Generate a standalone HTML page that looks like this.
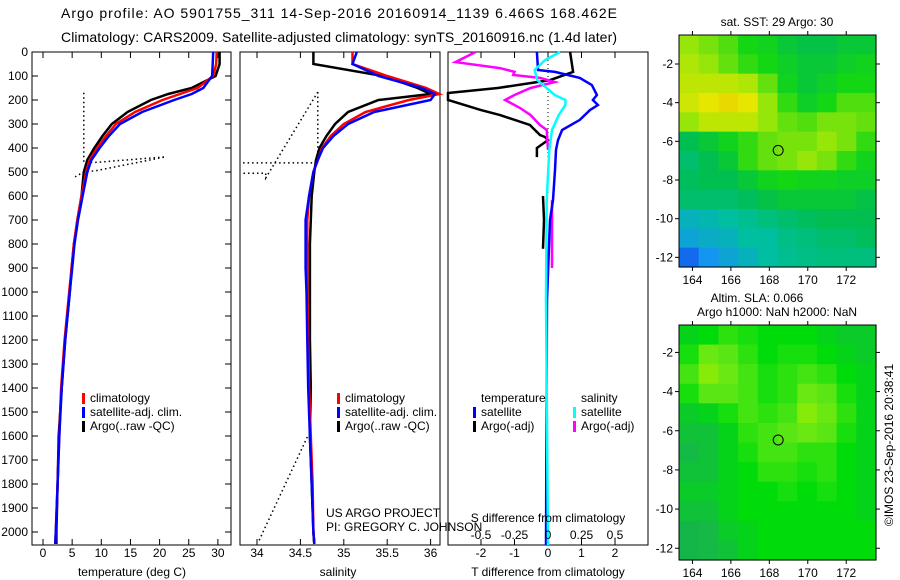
<!DOCTYPE html>
<html><head><meta charset="utf-8"><style>
html,body{margin:0;padding:0;background:#fff}
svg{display:block;font-family:"Liberation Sans",sans-serif}
</style></head><body>
<svg id="c" width="900" height="580" viewBox="0 0 900 580">
<text x="339" y="18" font-size="14" text-anchor="middle" textLength="556">Argo profile: AO 5901755_311 14-Sep-2016 20160914_1139 6.466S 168.462E</text>
<text x="339" y="42" font-size="14" text-anchor="middle" textLength="556">Climatology: CARS2009. Satellite-adjusted climatology: synTS_20160916.nc (1.4d later)</text>
<g id="g"></g>
</svg>
<script>
// ---- profile data (depth in dbar) ----
const depthTicks=[0,100,200,300,400,500,600,700,800,900,1000,1100,1200,1300,1400,1500,1600,1700,1800,1900,2000];
const tempTicks=[0,5,10,15,20,25,30];
const salTicks=[34,34.5,35,35.5,36];
const tdiffTicks=[-2,-1,0,1,2];
const sdiffTicks=[-0.5,-0.25,0,0.25,0.5];
const profDepth=[0,50,100,150,175,200,250,300,350,400,450,500,600,700,800,900,1000,1200,1400,1600,1800,2000,2050];
const tempClim=[29.8,29.7,29.2,26.5,23.5,20.5,15.8,12.5,10.8,9.3,8.0,7.4,6.6,5.9,5.3,4.9,4.5,3.7,3.1,2.8,2.5,2.2,2.1];
const tempSat=[29.2,29.1,29.0,27.5,25.5,22.5,17.0,13.2,11.3,9.7,8.3,7.6,6.8,6.0,5.4,5.0,4.6,3.8,3.2,2.8,2.5,2.2,2.1];
const tempArgo=[30.3,30.3,29.6,25.5,21.5,18.5,14.5,11.8,10.2,8.8,7.6,7.0,6.6,5.9,5.3,4.9,4.6,3.8,3.2,2.7,2.5,2.3,2.3];
const salClim=[35.1,35.1,35.5,35.95,36.1,35.75,35.25,35.0,34.85,34.75,34.7,34.65,34.6,34.58,34.58,34.58,34.58,34.59,34.6,34.62,34.64,34.65,34.66];
const salSat=[35.15,35.1,35.4,35.9,36.05,36.0,35.35,35.05,34.88,34.76,34.7,34.65,34.6,34.56,34.56,34.56,34.57,34.58,34.59,34.61,34.63,34.65,34.66];
const salArgo=[34.65,34.65,35.45,35.85,36.0,35.4,35.05,34.9,34.8,34.72,34.68,34.66,34.63,34.62,34.61,34.61,34.61,34.61,34.62,34.61,34.63,34.65,34.66];
const tempFlagT=[7.0,7.0,7.0,9.0,21.0,9.0,7.0,5.5];
const tempFlagD=[170,450,460,460,437,495,500,520];
const salFlagS=[34.7,34.7,33.8,NaN,34.7,34.1,34.1,33.8,NaN,34.58,34.01];
const salFlagD=[167,462,462,NaN,167,525,505,505,NaN,1604,2046];
// difference panel
const tdArgoD=[0,83,117,150,171,200,242,263,304,346,354,367,400,438];
const tdArgoV=[0.66,0.75,0.06,-1.5,-3.2,-3.2,-2.0,-1.43,-0.54,-0.24,-0.09,0,-0.33,-0.33];
const tdArgo2D=[600,700,820]; const tdArgo2V=[-0.15,-0.12,-0.15];
const tdSatD=[0,75,83,108,138,179,200,221,242,283,325,367,408,492,617,700,1033,2054];
const tdSatV=[-0.33,-0.3,0.21,0.95,1.31,1.46,1.34,1.49,1.25,0.95,0.42,0.30,0.24,0.21,0.15,0.06,-0.03,-0.06];
const sdArgoD=[0,42,67,83,96,108,125,150,179,200,233,263,304,325,408];
const sdArgoV=[-0.54,-0.69,-0.36,-0.25,-0.26,-0.06,0.05,-0.13,-0.25,-0.32,-0.21,-0.13,-0.06,-0.01,0.0];
const sdArgo2D=[617,900]; const sdArgo2V=[0.03,0.03];
const sdSatD=[0,33,75,117,179,200,221,263,325,408,617,1033,2054];
const sdSatV=[0.09,-0.02,-0.1,-0.08,0.05,0.13,0.13,0.08,0.03,0.01,-0.01,-0.015,0.0];
// maps
const lonTicks=[164,166,168,170,172];
const latTicks=[-2,-4,-6,-8,-10,-12];
const sstGrid=[
[0.75,0.72,0.68,0.62,0.6,0.55,0.52,0.52,0.55,0.55],
[0.78,0.75,0.7,0.65,0.62,0.58,0.55,0.55,0.58,0.6],
[0.8,0.8,0.8,0.78,0.7,0.6,0.55,0.58,0.62,0.62],
[0.82,0.85,0.88,0.85,0.75,0.65,0.58,0.62,0.68,0.68],
[0.75,0.8,0.8,0.8,0.75,0.7,0.68,0.72,0.72,0.7],
[0.5,0.55,0.6,0.65,0.7,0.72,0.72,0.75,0.72,0.65],
[0.45,0.5,0.55,0.65,0.7,0.72,0.75,0.72,0.65,0.6],
[0.48,0.5,0.5,0.55,0.6,0.62,0.6,0.6,0.58,0.58],
[0.45,0.45,0.45,0.48,0.52,0.55,0.55,0.55,0.55,0.52],
[0.3,0.32,0.35,0.38,0.42,0.45,0.48,0.5,0.5,0.5],
[0.25,0.28,0.3,0.35,0.35,0.4,0.42,0.45,0.45,0.48],
[0.12,0.2,0.25,0.3,0.35,0.38,0.4,0.42,0.42,0.42]];
const slaGrid=[
[0.45,0.5,0.6,0.55,0.5,0.5,0.5,0.45,0.4,0.4],
[0.55,0.75,0.7,0.6,0.5,0.55,0.55,0.5,0.45,0.4],
[0.65,0.85,0.75,0.65,0.55,0.6,0.65,0.6,0.5,0.45],
[0.55,0.7,0.7,0.65,0.55,0.6,0.75,0.7,0.55,0.45],
[0.4,0.45,0.55,0.65,0.6,0.65,0.85,0.75,0.6,0.45],
[0.35,0.35,0.45,0.6,0.65,0.7,0.75,0.7,0.55,0.45],
[0.3,0.35,0.45,0.55,0.65,0.65,0.6,0.6,0.5,0.45],
[0.35,0.35,0.45,0.5,0.6,0.6,0.55,0.6,0.5,0.45],
[0.4,0.4,0.45,0.5,0.5,0.55,0.5,0.55,0.5,0.45],
[0.35,0.35,0.45,0.5,0.5,0.5,0.5,0.5,0.5,0.45],
[0.25,0.3,0.4,0.45,0.5,0.5,0.5,0.5,0.5,0.5],
[0.25,0.3,0.35,0.45,0.5,0.5,0.5,0.5,0.5,0.5]];
const argoLon=168.46, argoLat=-6.47;

const NS='http://www.w3.org/2000/svg';
const G=document.getElementById('g');
function mk(tag,at,parent){const e=document.createElementNS(NS,tag);for(const k in at)e.setAttribute(k,at[k]);(parent||G).appendChild(e);return e;}
function txt(x,y,s,size,anchor){const t=mk('text',{x:x,y:y,'font-size':size||12,'text-anchor':anchor||'middle'});t.textContent=s;return t;}

const PT=52,PB=545;
const yD=d=>PT+d*0.24;
const xT=v=>43+v*5.83;
const xS=v=>257+(v-34)*86.8;
const xTD=v=>548+v*33.5;
const xSD=v=>548+v*134;

function frame(x0,x1,name){
  const r=mk('rect',{x:x0,y:PT,width:x1-x0,height:PB-PT,fill:'none',stroke:'#000','stroke-width':1});
  
  
}
function line(xs,ds,fx,col,w,name,dash){
  let p='',pen=false;
  for(let i=0;i<xs.length;i++){
    if(isNaN(xs[i])||isNaN(ds[i])){pen=false;continue;}
    p+=(pen?'L':'M')+fx(xs[i]).toFixed(1)+','+yD(ds[i]).toFixed(1);pen=true;
  }
  const e=mk('path',{d:p,fill:'none',stroke:col,'stroke-width':w,'stroke-linejoin':'miter'});
  if(dash)e.setAttribute('stroke-dasharray',dash);
  
  
}
function xticks(ticks,fx,ty){
  ticks.forEach(v=>{const x=fx(v);
    mk('line',{x1:x,x2:x,y1:PB,y2:PB-6,stroke:'#000'});
    mk('line',{x1:x,x2:x,y1:PT,y2:PT+6,stroke:'#000'});
    const t=txt(x,ty,String(v),12);
    
    
  });
}
function legendBar(x,y,col){mk('rect',{x:x,y:y-9,width:3,height:11,fill:col});}

// Panel 1 temperature
frame(32,231,'temperature-panel');
depthTicks.forEach(d=>{const y=yD(d);
  mk('line',{x1:32,x2:38,y1:y,y2:y,stroke:'#000'});
  mk('line',{x1:231,x2:225,y1:y,y2:y,stroke:'#000'});
  const t=txt(28,y+4,String(d),12,'end');
  
  
});
xticks(tempTicks,xT,557);
line(tempFlagT,tempFlagD,xT,'#000',1.5,'temp-flagged-raw','1.5,3');
line(tempArgo,profDepth,xT,'#000',2.5,'temp-argo-line');
line(tempClim,profDepth,xT,'#f00',2.5,'temp-climatology-line');
line(tempSat,profDepth,xT,'#0000ff',2.5,'temp-satellite-line');
let t=txt(132,576,'temperature (deg C)',12);

// Panel 2 salinity
frame(240,440,'salinity-panel');
xticks(salTicks,xS,557);
line(salFlagS,salFlagD,xS,'#000',1.5,'sal-flagged-raw','1.5,3');
line(salArgo,profDepth,xS,'#000',2.5,'sal-argo-line');
line(salClim,profDepth,xS,'#f00',2.5,'sal-climatology-line');
line(salSat,profDepth,xS,'#0000ff',2.5,'sal-satellite-line');
t=txt(338,576,'salinity',12);

// legends panels 1,2
[[82,90],[337,345]].forEach((p,i)=>{
  const g=mk('g',{});
  
  
  [['#f00','climatology'],['#0000ff','satellite-adj. clim.'],['#000','Argo(..raw -QC)']].forEach((e,k)=>{
    legendBar(p[0],402+k*14,e[0]);
    const tt=mk('text',{x:p[1],y:402+k*14,'font-size':12},g);tt.textContent=e[1];
  });
});
t=txt(326,517,'US ARGO PROJECT',12,'start');
t=txt(326,531,'PI: GREGORY C. JOHNSON',12,'start');

// Panel 3 differences
frame(448,648,'difference-panel');
xticks(tdiffTicks,xTD,557);
mk('line',{x1:548,x2:548,y1:PT,y2:yD(600),stroke:'#000','stroke-dasharray':'1,3'});
line(tdArgoV,tdArgoD,v=>Math.max(448,xTD(v)),'#000',2.5,'tdiff-argo-line');
line(tdArgo2V,tdArgo2D,xTD,'#000',2.5,'tdiff-argo-deep-line');
line(sdArgoV,sdArgoD,xSD,'#ff00ff',2.5,'sdiff-argo-line');
line(sdArgo2V,sdArgo2D,xSD,'#ff00ff',2.5,'sdiff-argo-deep-line');
line(tdSatV,tdSatD,xTD,'#0000ff',2.5,'tdiff-satellite-line');
line(sdSatV,sdSatD,xSD,'#00ffff',2.5,'sdiff-satellite-line');
sdiffTicks.forEach(v=>{const tt=txt(xSD(v),539,String(v),12);});
t=txt(548,522,'S difference from climatology',12);
t=txt(548,576,'T difference from climatology',12);
{const g=mk('g',{});
 
 
 let a=mk('text',{x:481,y:402,'font-size':12},g);a.textContent='temperature';
 a=mk('text',{x:581,y:402,'font-size':12},g);a.textContent='salinity';
 legendBar(473,416,'#0000ff');a=mk('text',{x:481,y:416,'font-size':12},g);a.textContent='satellite';
 legendBar(473,430,'#000');a=mk('text',{x:481,y:430,'font-size':12},g);a.textContent='Argo(-adj)';
 legendBar(573,416,'#00ffff');a=mk('text',{x:581,y:416,'font-size':12},g);a.textContent='satellite';
 legendBar(573,430,'#ff00ff');a=mk('text',{x:581,y:430,'font-size':12},g);a.textContent='Argo(-adj)';
}

// Maps
function lerpC(stops,v){v=Math.max(0,Math.min(1,v));
  for(let i=1;i<stops.length;i++){if(v<=stops[i][0]){const a=stops[i-1],b=stops[i],f=(v-a[0])/(b[0]-a[0]);
    return 'rgb('+[0,1,2].map(k=>Math.round(a[1][k]+(b[1][k]-a[1][k])*f)).join(',')+')';}}
  return 'rgb('+stops[stops.length-1][1].join(',')+')';}
const sstStops=[[0,[20,40,230]],[0.2,[20,150,240]],[0.35,[0,190,160]],[0.5,[0,190,80]],[0.62,[20,215,20]],[0.75,[150,230,10]],[0.85,[230,230,0]],[1,[240,170,0]]];
const slaStops=[[0,[20,160,90]],[0.3,[20,185,70]],[0.5,[0,220,10]],[0.7,[90,230,20]],[1,[180,240,0]]];
function map(x0,y0,x1,y1,lat0,lat1,grid,stops,name){
  const lon0=163.3,lon1=173.55;
  const fx=v=>x0+(v-lon0)/(lon1-lon0)*(x1-x0);
  const fy=v=>y0+(v-lat0)/(lat1-lat0)*(y1-y0);
  const g=mk('g',{});
  
  
  const rows=grid.length,cols=grid[0].length;
  const cw=(x1-x0)/cols,ch=(y1-y0)/rows;
  grid.forEach((row,r)=>row.forEach((v,c)=>{
    const cell=mk('rect',{x:(x0+c*cw).toFixed(2),y:(y0+r*ch).toFixed(2),width:(cw+0.6).toFixed(2),height:(ch+0.6).toFixed(2),fill:lerpC(stops,v)},g);
    
    
  }));
  mk('rect',{x:x0,y:y0,width:x1-x0,height:y1-y0,fill:'none',stroke:'#000'},g);
  lonTicks.forEach(v=>{const x=fx(v);
    mk('line',{x1:x,x2:x,y1:y1,y2:y1+4,stroke:'#000'},g);
    mk('line',{x1:x,x2:x,y1:y0,y2:y0-4,stroke:'#000'},g);
    const tt=mk('text',{x:x,y:y1+17,'font-size':12,'text-anchor':'middle'},g);tt.textContent=String(v);});
  latTicks.forEach(v=>{const y=fy(v);
    mk('line',{x1:x0,x2:x0-4,y1:y,y2:y,stroke:'#000'},g);
    mk('line',{x1:x1,x2:x1+4,y1:y,y2:y,stroke:'#000'},g);
    const tt=mk('text',{x:x0-6,y:y+4,'font-size':12,'text-anchor':'end'},g);tt.textContent=String(v);});
  const c=mk('circle',{cx:fx(argoLon),cy:fy(argoLat),r:5,fill:'none',stroke:'#000','stroke-width':1},g);
  
  
}
map(679,35,876,267,-0.5,-12.5,sstGrid,sstStops,'sst-map');
map(679,325,876,560,-0.6,-12.6,slaGrid,slaStops,'sla-map');
t=txt(777,26,'sat. SST: 29 Argo: 30',12);
t=txt(757,302,'Altim. SLA: 0.066',12);
t=txt(777,316,'Argo h1000: NaN h2000: NaN',12);
t=mk('text',{x:0,y:0,'font-size':12,'text-anchor':'middle',transform:'translate(893,445) rotate(-90)'});t.textContent='©IMOS 23-Sep-2016 20:38:41';


</script>
</body></html>
